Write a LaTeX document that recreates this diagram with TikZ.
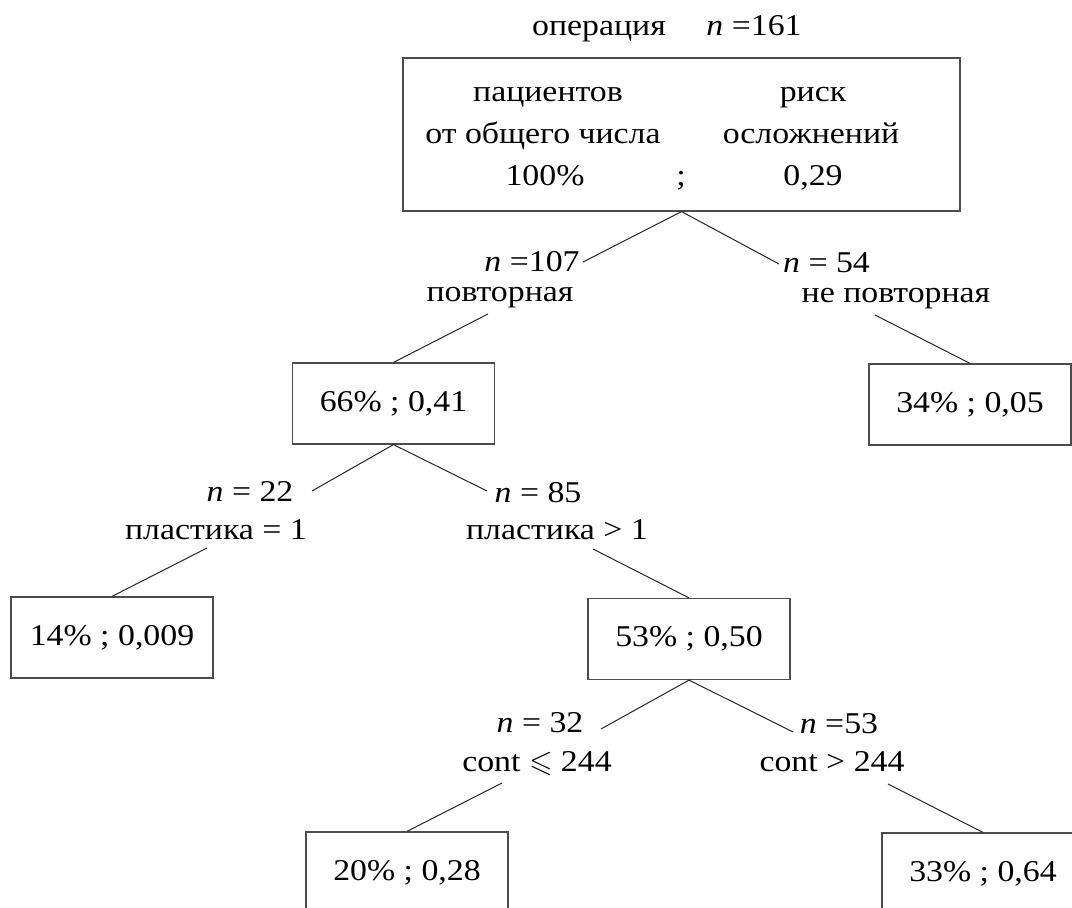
\documentclass[tikz,border=0pt]{standalone}
\usepackage{amssymb}
\usepackage{fontspec}
\setmainfont{Liberation Serif}[FakeStretch=1.12]

\begin{document}
\begin{tikzpicture}[x=0.5pt,y=-0.5pt,
    font=\fontsize{15.1}{17}\selectfont,
    leaf/.style={draw=black!70,line width=0.6pt,minimum width=101pt,minimum height=40.5pt,inner sep=0pt},
    label/.style={anchor=base,inner sep=0pt},
    branch/.style={draw=black!85,line width=0.5pt}]
  \clip (0,0) rectangle (1072,908);

  % root
  \node[label] (root-title) at (599,36) {операция};
  \node[label] (root-n) at (754,36) {\textit{n} =161};
  \node[leaf,minimum width=278.5pt,minimum height=76.5pt] (root-box) at (681.5,134.5) {};
  \node[label] (share-head) at (548,102) {пациентов};
  \node[label] (share-sub) at (543,144) {от общего числа};
  \node[label] (share-val) at (545,186) {100\%};
  \node[label] (root-sep) at (681,186) {;};
  \node[label] (risk-head) at (813,102) {риск};
  \node[label] (risk-sub) at (811,144) {осложнений};
  \node[label] (risk-val) at (813,186) {0,29};

  % first split
  \node[label] (redo-n) at (532,272) {\textit{n} =107};
  \node[label] (redo-cond) at (500,302) {повторная};
  \node[label] (first-n) at (826.5,273) {\textit{n} = 54};
  \node[label] (first-cond) at (896,303) {не повторная};
  \node[leaf] (redo-box) at (393.5,403.5) {66\% ; 0,41};
  \node[leaf] (first-box) at (970,404.5) {34\% ; 0,05};

  % second split
  \node[label] (single-n) at (250,502) {\textit{n} = 22};
  \node[label] (single-cond) at (216,540) {пластика = 1};
  \node[label] (multi-n) at (538,503) {\textit{n} = 85};
  \node[label] (multi-cond) at (557,540) {пластика > 1};
  \node[leaf] (single-box) at (112,637.5) {14\% ; 0,009};
  \node[leaf] (multi-box) at (689,639) {53\% ; 0,50};

  % third split
  \node[label] (low-n) at (540,733) {\textit{n} = 32};
  \node[label] (low-cond) at (537,772) {cont $\leqslant$ 244};
  \node[label] (high-n) at (839,734) {\textit{n} =53};
  \node[label] (high-cond) at (832,772) {cont > 244};
  \node[leaf] (low-box) at (407,872.5) {20\% ; 0,28};
  \node[leaf] (high-box) at (983,873.5) {33\% ; 0,64};

  \coordinate (redo-in) at (583,262);
  \coordinate (redo-out) at (488,314);
  \coordinate (first-in) at (779,264);
  \coordinate (first-out) at (875,315);
  \coordinate (single-in) at (312,491);
  \coordinate (single-out) at (207,548);
  \coordinate (multi-in) at (487,491);
  \coordinate (multi-out) at (593,549);
  \coordinate (low-in) at (601,729);
  \coordinate (low-out) at (502,783);
  \coordinate (high-in) at (793,732);
  \coordinate (high-out) at (888,784);

  \draw[branch] (root-box.south) -- (redo-in) (redo-out) -- (redo-box.north);
  \draw[branch] (root-box.south) -- (first-in) (first-out) -- (first-box.north);
  \draw[branch] (redo-box.south) -- (single-in) (single-out) -- (single-box.north);
  \draw[branch] (redo-box.south) -- (multi-in) (multi-out) -- (multi-box.north);
  \draw[branch] (multi-box.south) -- (low-in) (low-out) -- (low-box.north);
  \draw[branch] (multi-box.south) -- (high-in) (high-out) -- (high-box.north);
\end{tikzpicture}
\end{document}
